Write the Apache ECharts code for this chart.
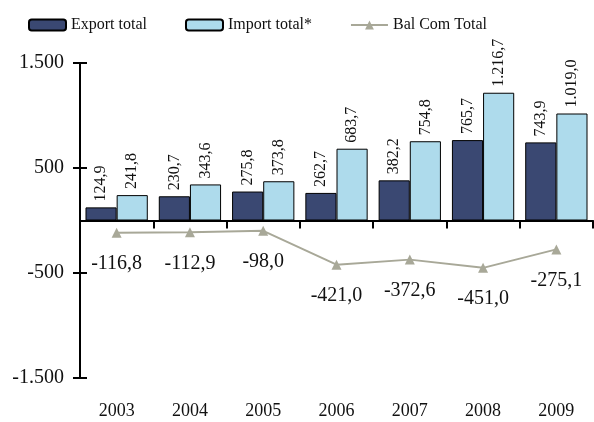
<!DOCTYPE html>
<html>
<head>
<meta charset="utf-8">
<script src="https://cdn.jsdelivr.net/npm/echarts@6/dist/echarts.min.js"></script>
<style>
  html, body { margin: 0; padding: 0; background: #fff; }
  #chart { width: 594px; height: 422px; }
</style>
</head>
<body>
<div id="chart"></div>
<script>
// Data
var years = ['2003', '2004', '2005', '2006', '2007', '2008', '2009'];
var exportTotal = [124.9, 230.7, 275.8, 262.7, 382.2, 765.7, 743.9];
var importTotal = [241.8, 343.6, 373.8, 683.7, 754.8, 1216.7, 1019.0];
var balComTotal = [-116.8, -112.9, -98.0, -421.0, -372.6, -451.0, -275.1];

// European number format: 1.216,7
var fmt = function (v, dec) {
    var s = Math.abs(v).toFixed(dec);
    var parts = s.split('.');
    var intPart = parts[0].replace(/\B(?=(\d{3})+(?!\d))/g, '.');
    var out = intPart + (parts[1] ? ',' + parts[1] : '');
    return (v < 0 ? '-' : '') + out;
};

var font = '"Liberation Serif", "Times New Roman", serif';

var chart = echarts.init(document.getElementById('chart'));

var options = {
    animation: false,
    textStyle: { fontFamily: font, color: '#111' },
    legend: {
        left: 23,
        top: 12,
        itemWidth: 37,
        itemHeight: 11,
        itemGap: 38,
        textStyle: { fontFamily: font, fontSize: 16, color: '#111' },
        data: ['Export total', 'Import total*', 'Bal Com Total']
    },
    grid: { left: 80, right: 1, top: 63, bottom: 44, containLabel: false },
    xAxis: [
        {
            type: 'category',
            data: years,
            axisLine: { onZero: true, lineStyle: { color: '#000', width: 2 } },
            axisTick: { show: true, length: 8, lineStyle: { color: '#000', width: 2 } },
            axisLabel: { show: false }
        },
        {
            type: 'category',
            data: years,
            axisLine: { show: false, onZero: true },
            axisTick: { show: true, inside: true, length: 8, lineStyle: { color: '#000', width: 2 } },
            axisLabel: { show: false }
        },
        {
            type: 'category',
            data: years,
            position: 'bottom',
            axisLine: { show: false, onZero: false },
            axisTick: { show: false },
            axisLabel: { margin: 24, fontSize: 18, fontFamily: font, color: '#111' }
        }
    ],
    yAxis: [
        {
            type: 'value',
            position: 'left',
            min: -1500,
            max: 1500,
            interval: 1000,
            splitLine: { show: false },
            axisLine: { show: true, lineStyle: { color: '#000', width: 2 } },
            axisTick: { show: true, length: 7, lineStyle: { color: '#000', width: 2 } },
            axisLabel: {
                margin: 16,
                fontSize: 20,
                fontFamily: font,
                color: '#111',
                formatter: function (v) { return fmt(v, 0); }
            }
        },
        {
            type: 'value',
            position: 'left',
            min: -1500,
            max: 1500,
            interval: 1000,
            splitLine: { show: false },
            axisLine: { show: false },
            axisTick: { show: true, inside: true, length: 7, lineStyle: { color: '#000', width: 2 } },
            axisLabel: { show: false }
        }
    ],
    series: [
        {
            name: 'Export total',
            type: 'bar',
            data: exportTotal,
            barGap: '0%',
            barCategoryGap: '15%',
            itemStyle: { color: '#3a4872', borderColor: '#000', borderWidth: 1 },
            label: {
                show: true,
                position: 'top',
                rotate: 90,
                align: 'left',
                verticalAlign: 'middle',
                distance: 6,
                fontSize: 16,
                fontFamily: font,
                color: '#111',
                formatter: function (p) { return fmt(p.value, 1); }
            }
        },
        {
            name: 'Import total*',
            type: 'bar',
            data: importTotal,
            barGap: '0%',
            barCategoryGap: '15%',
            itemStyle: { color: '#aedbec', borderColor: '#000', borderWidth: 1 },
            label: {
                show: true,
                position: 'top',
                rotate: 90,
                align: 'left',
                verticalAlign: 'middle',
                distance: 6,
                fontSize: 16,
                fontFamily: font,
                color: '#111',
                formatter: function (p) { return fmt(p.value, 1); }
            }
        },
        {
            name: 'Bal Com Total',
            type: 'line',
            data: balComTotal,
            symbol: 'triangle',
            symbolSize: 10,
            lineStyle: { color: '#a8a898', width: 2 },
            itemStyle: { color: '#a8a898' },
            label: {
                show: true,
                position: 'bottom',
                distance: 16,
                fontSize: 20,
                fontFamily: font,
                color: '#111',
                formatter: function (p) { return fmt(p.value, 1); }
            },
            z: 5
        }
    ]
};

chart.setOption(options);
</script>
</body>
</html>
